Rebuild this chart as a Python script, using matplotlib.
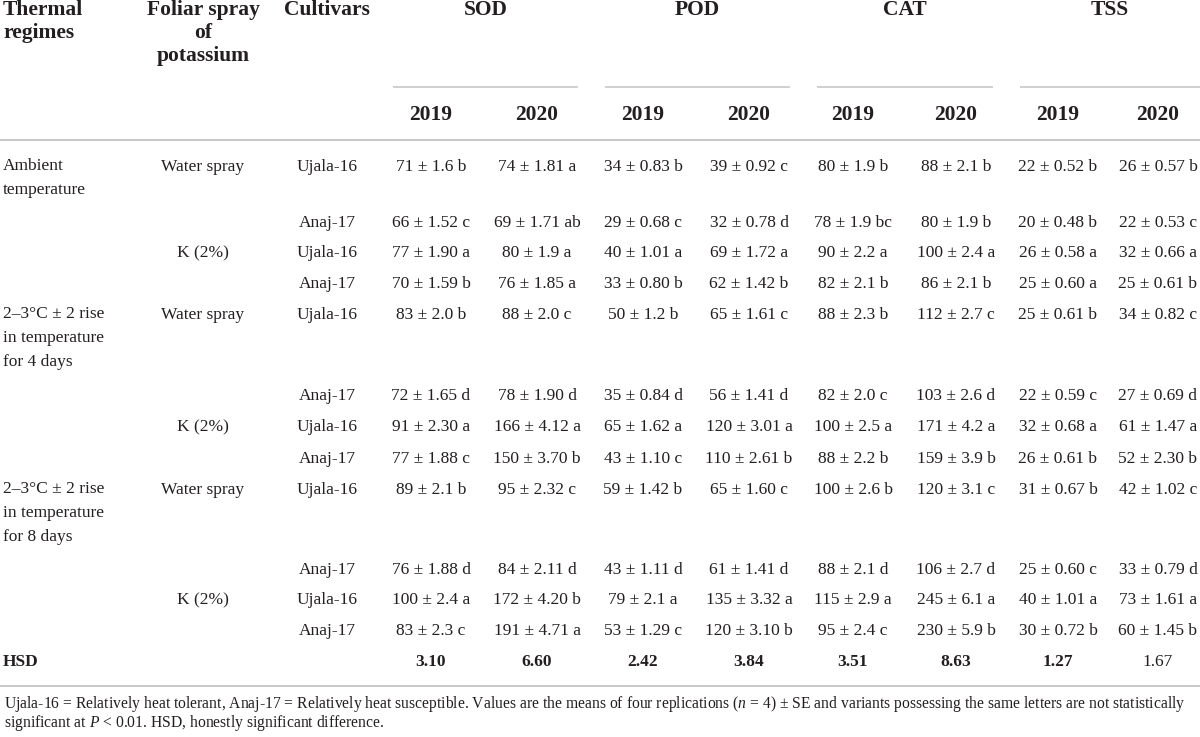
import matplotlib
matplotlib.use("Agg")
import matplotlib.pyplot as plt

plt.rcParams['font.family'] = ['Liberation Serif', 'DejaVu Serif']
plt.rcParams['mathtext.fontset'] = 'custom'
plt.rcParams['mathtext.rm'] = 'Liberation Serif'
plt.rcParams['mathtext.it'] = 'Liberation Serif:italic'

# table content
groups = ["SOD", "POD", "CAT", "TSS"]
years = ["2019", "2020"]
thermal = ["Ambient\ntemperature",
           "2–3°C ± 2 rise\nin temperature\nfor 4 days",
           "2–3°C ± 2 rise\nin temperature\nfor 8 days"]
sprays = ["Water spray", "K (2%)"]
cultivars = ["Ujala-16", "Anaj-17"]

sod_2019 = ["71 ± 1.6 b", "66 ± 1.52 c", "77 ± 1.90 a", "70 ± 1.59 b", "83 ± 2.0 b", "72 ± 1.65 d",
            "91 ± 2.30 a", "77 ± 1.88 c", "89 ± 2.1 b", "76 ± 1.88 d", "100 ± 2.4 a", "83 ± 2.3 c"]
sod_2020 = ["74 ± 1.81 a", "69 ± 1.71 ab", "80 ± 1.9 a", "76 ± 1.85 a", "88 ± 2.0 c", "78 ± 1.90 d",
            "166 ± 4.12 a", "150 ± 3.70 b", "95 ± 2.32 c", "84 ± 2.11 d", "172 ± 4.20 b", "191 ± 4.71 a"]
pod_2019 = ["34 ± 0.83 b", "29 ± 0.68 c", "40 ± 1.01 a", "33 ± 0.80 b", "50 ± 1.2 b", "35 ± 0.84 d",
            "65 ± 1.62 a", "43 ± 1.10 c", "59 ± 1.42 b", "43 ± 1.11 d", "79 ± 2.1 a", "53 ± 1.29 c"]
pod_2020 = ["39 ± 0.92 c", "32 ± 0.78 d", "69 ± 1.72 a", "62 ± 1.42 b", "65 ± 1.61 c", "56 ± 1.41 d",
            "120 ± 3.01 a", "110 ± 2.61 b", "65 ± 1.60 c", "61 ± 1.41 d", "135 ± 3.32 a", "120 ± 3.10 b"]
cat_2019 = ["80 ± 1.9 b", "78 ± 1.9 bc", "90 ± 2.2 a", "82 ± 2.1 b", "88 ± 2.3 b", "82 ± 2.0 c",
            "100 ± 2.5 a", "88 ± 2.2 b", "100 ± 2.6 b", "88 ± 2.1 d", "115 ± 2.9 a", "95 ± 2.4 c"]
cat_2020 = ["88 ± 2.1 b", "80 ± 1.9 b", "100 ± 2.4 a", "86 ± 2.1 b", "112 ± 2.7 c", "103 ± 2.6 d",
            "171 ± 4.2 a", "159 ± 3.9 b", "120 ± 3.1 c", "106 ± 2.7 d", "245 ± 6.1 a", "230 ± 5.9 b"]
tss_2019 = ["22 ± 0.52 b", "20 ± 0.48 b", "26 ± 0.58 a", "25 ± 0.60 a", "25 ± 0.61 b", "22 ± 0.59 c",
            "32 ± 0.68 a", "26 ± 0.61 b", "31 ± 0.67 b", "25 ± 0.60 c", "40 ± 1.01 a", "30 ± 0.72 b"]
tss_2020 = ["26 ± 0.57 b", "22 ± 0.53 c", "32 ± 0.66 a", "25 ± 0.61 b", "34 ± 0.82 c", "27 ± 0.69 d",
            "61 ± 1.47 a", "52 ± 2.30 b", "42 ± 1.02 c", "33 ± 0.79 d", "73 ± 1.61 a", "60 ± 1.45 b"]
hsd = ["3.10", "6.60", "2.42", "3.84", "3.51", "8.63", "1.27", "1.67"]
hsd_bold = [True, True, True, True, True, True, True, False]

footnote = ["Ujala-16 = Relatively heat tolerant, Anaj-17 = Relatively heat susceptible. Values are the means "
            "of four replications ($n$ = 4) ± SE and variants possessing the same letters are not statistically",
            "significant at $P$ < 0.01. HSD, honestly significant difference."]

columns = [sod_2019, sod_2020, pod_2019, pod_2020, cat_2019, cat_2020, tss_2019, tss_2020]

# layout (pixels)
txt = "#231f20"
rule = "#c8c8c8"
col_x = [431, 537, 643, 749, 853, 956, 1058, 1158]
group_lines = [(393, 578), (605, 790), (817, 993), (1020, 1200)]
row_y = [167, 223, 253, 284, 315, 396, 427, 459, 490, 570, 600, 631]
hsd_y = 662
hfs = 15.5
dfs = 12.5

fig = plt.figure(figsize=(12, 7.37), dpi=100)
ax = fig.add_axes([0, 0, 1, 1])
ax.set_xlim(0, 1200)
ax.set_ylim(737, 0)
ax.axis("off")

# header
ax.text(3, 0, "Thermal\nregimes", fontsize=hfs, fontweight="bold", color=txt,
        ha="left", va="top", linespacing=1.2)
ax.text(203, 0, "Foliar spray\nof\npotassium", fontsize=hfs, fontweight="bold", color=txt,
        ha="center", va="top", linespacing=1.2)
ax.text(327, 0, "Cultivars", fontsize=hfs, fontweight="bold", color=txt, ha="center", va="top")
for g, (x0, x1) in zip(groups, group_lines):
    ax.text((x0 + x1) / 2, 0, g, fontsize=hfs, fontweight="bold", color=txt, ha="center", va="top")
    ax.plot([x0, x1], [87, 87], color=rule, lw=1.2, solid_capstyle="butt")
for i, x in enumerate(col_x):
    ax.text(x, 115, years[i % 2], fontsize=hfs, fontweight="bold", color=txt, ha="center", va="center")
ax.plot([0, 1200], [140, 140], color=rule, lw=1.4)

# body
for i, y in enumerate(row_y):
    block = i // 4
    pos = i % 4
    if pos == 0:
        ax.text(3, y - 9.5, thermal[block], fontsize=dfs, color=txt, ha="left", va="top", linespacing=1.68)
    if pos in (0, 2):
        ax.text(203, y, sprays[pos // 2], fontsize=dfs, color=txt, ha="center", va="center")
    ax.text(327, y, cultivars[pos % 2], fontsize=dfs, color=txt, ha="center", va="center")
    for x, col in zip(col_x, columns):
        ax.text(x, y, col[i], fontsize=dfs, color=txt, ha="center", va="center")

ax.text(3, hsd_y, "HSD", fontsize=dfs, fontweight="bold", color=txt, ha="left", va="center")
for x, v, b in zip(col_x, hsd, hsd_bold):
    ax.text(x, hsd_y, v, fontsize=dfs, fontweight="bold" if b else "normal", color=txt,
            ha="center", va="center")
ax.plot([0, 1200], [686, 686], color=rule, lw=1.4)

# footnote
ax.text(4, 704, footnote[0], fontsize=11.25, color=txt, ha="left", va="center")
ax.text(4, 723, footnote[1], fontsize=11.25, color=txt, ha="left", va="center")

fig.savefig("out.png", dpi=100)
plt.close(fig)
